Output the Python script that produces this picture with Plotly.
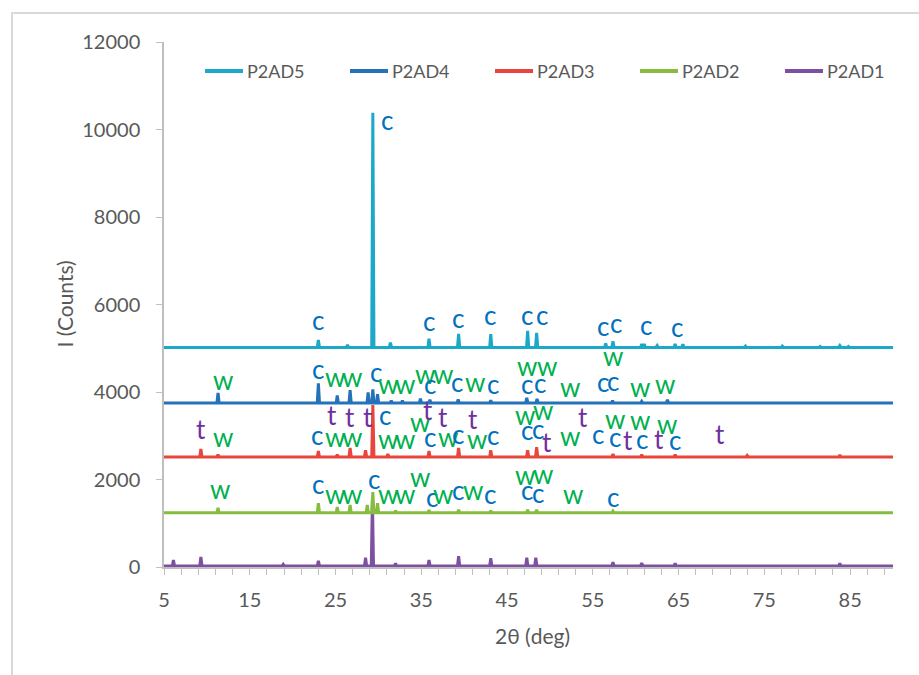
import plotly.graph_objects as go

# ---------------- data ----------------
x_start, x_end = 5, 90

series_names = ["P2AD5", "P2AD4", "P2AD3", "P2AD2", "P2AD1"]

p2ad5_base = 5020
p2ad5_pos = [23.0, 26.4, 29.35, 31.4, 35.9, 39.35, 43.1, 47.4, 48.45, 56.5, 57.35,
             60.7, 61.0, 62.5, 64.6, 65.5, 72.8, 77.1, 81.5, 83.8, 84.8]
p2ad5_int = [5190, 5080, 10380, 5130, 5220, 5330, 5320, 5400, 5350, 5110, 5160,
             5100, 5100, 5060, 5100, 5090, 5050, 5050, 5040, 5060, 5040]

p2ad4_base = 3750
p2ad4_pos = [11.3, 23.0, 25.2, 26.7, 28.8, 29.35, 29.9, 31.5, 32.8, 34.9, 36.0,
             39.3, 43.1, 47.3, 48.5, 57.3, 60.7, 63.7]
p2ad4_int = [3980, 4200, 3920, 4040, 3990, 4060, 3950, 3800, 3800, 3850, 3820,
             3830, 3810, 3870, 3840, 3800, 3790, 3820]

p2ad3_base = 2515
p2ad3_pos = [9.3, 11.3, 23.0, 25.2, 26.7, 28.5, 29.35, 31.1, 35.9, 39.35, 43.1,
             47.4, 48.45, 57.35, 60.7, 64.6, 73.0, 83.8]
p2ad3_int = [2700, 2570, 2650, 2570, 2720, 2670, 3700, 2580, 2650, 2720, 2670,
             2670, 2740, 2580, 2570, 2570, 2550, 2560]

p2ad2_base = 1240
p2ad2_pos = [11.3, 23.0, 25.2, 26.7, 28.7, 29.35, 29.9, 32.0, 35.9, 39.35, 43.1,
             47.4, 48.45, 57.35]
p2ad2_int = [1350, 1460, 1370, 1420, 1420, 1710, 1460, 1290, 1300, 1310, 1290,
             1310, 1310, 1280]

p2ad1_base = 25
p2ad1_pos = [6.1, 9.3, 18.9, 23.0, 28.5, 29.3, 32.0, 35.9, 39.35, 43.1, 47.3,
             48.35, 57.35, 60.7, 64.6, 83.8]
p2ad1_int = [160, 230, 60, 140, 210, 1550, 80, 160, 250, 200, 210,
             210, 110, 90, 80, 80]

# phase labels: text, 2theta, counts
label_text = (
    ["c", "c", "c", "c", "c", "c", "c", "c", "c", "c", "c", "w"]
    + ["w", "c", "w", "w", "c", "w", "w", "w", "w", "c", "c", "w", "c", "w", "w",
       "c", "c", "w", "c", "c", "w", "w"]
    + ["t", "w", "c", "w", "w", "t", "t", "t", "c", "w", "w", "w", "t", "c", "t",
       "w", "c", "t", "w", "c", "w", "w", "c", "c", "t", "w", "t", "c", "w", "c",
       "t", "w", "c", "t", "w", "c", "t"]
    + ["w", "c", "w", "w", "c", "w", "w", "w", "c", "w", "c", "w", "c", "w", "w",
       "c", "c", "w", "c"]
)
label_x = (
    [22.97, 31.0, 35.92, 39.31, 43.04, 47.36, 49.11, 56.22, 57.74, 61.24, 64.86, 57.39]
    + [11.88, 22.97, 24.95, 26.94, 29.74, 31.14, 33.12, 35.45, 37.56, 36.04, 39.19,
       41.29, 43.39, 47.36, 49.69, 47.36, 48.87, 52.37, 56.22, 57.39, 60.54, 63.46]
    + [9.32, 11.88, 22.85, 24.95, 26.94, 24.6, 26.7, 28.8, 30.79, 31.14, 33.12,
       34.87, 35.8, 36.04, 37.56, 38.14, 39.31, 41.06, 41.52, 43.39, 47.12, 49.22,
       47.36, 48.64, 49.69, 52.37, 53.89, 55.64, 57.63, 57.63, 59.14, 60.54, 60.78,
       62.76, 63.7, 64.63, 69.88]
    + [11.53, 22.97, 24.95, 26.94, 29.5, 31.14, 33.12, 34.87, 36.27, 37.56, 39.31,
       41.06, 43.04, 47.12, 49.22, 47.36, 48.64, 52.72, 57.39]
)
label_y = (
    [5578, 10150, 5555, 5624, 5692, 5692, 5692, 5441, 5509, 5464, 5418, 4755]
    + [4206, 4458, 4275, 4275, 4389, 4115, 4115, 4343, 4343, 4115, 4160,
       4160, 4115, 4526, 4526, 4115, 4138, 4046, 4160, 4183, 4046, 4115]
    + [3086, 2903, 2949, 2903, 2903, 3406, 3360, 3360, 3406, 2857, 2857,
       3246, 3520, 2903, 3360, 2903, 2972, 3315, 2857, 2949, 3406, 3520,
       3063, 3086, 2789, 2926, 3360, 2972, 3315, 2903, 2835, 3292, 2857,
       2857, 3200, 2835, 2972]
    + [1714, 1829, 1600, 1600, 1943, 1600, 1600, 1989, 1532, 1600, 1692,
       1692, 1600, 2035, 2057, 1692, 1623, 1600, 1532]
)

y_ticks = [0, 2000, 4000, 6000, 8000, 10000, 12000]
y_tick_text = ["0", "2000", "4000", "6000", "8000", "10000", "12000"]

# ---------------- styling ----------------
line_colors = {"P2AD5": "#1CA9C9", "P2AD4": "#2472B9", "P2AD3": "#E8453C",
               "P2AD2": "#86BD41", "P2AD1": "#7E50A2"}
label_colors = {"c": "#0070C0", "w": "#00B050", "t": "#7030A0"}
FONT = "Lato"
GREY_TXT = "#595959"
AX = "#BFBFBF"

series = {
    "P2AD5": (p2ad5_base, p2ad5_pos, p2ad5_int),
    "P2AD4": (p2ad4_base, p2ad4_pos, p2ad4_int),
    "P2AD3": (p2ad3_base, p2ad3_pos, p2ad3_int),
    "P2AD2": (p2ad2_base, p2ad2_pos, p2ad2_int),
    "P2AD1": (p2ad1_base, p2ad1_pos, p2ad1_int),
}


def build(base, pos, inten, hw=0.13):
    xs, ys = [x_start], [base]
    for p, v in zip(pos, inten):
        xs += [p - hw, p, p + hw]
        ys += [base, v, base]
    xs.append(x_end)
    ys.append(base)
    return xs, ys


fig = go.Figure()
for name in reversed(series_names):
    xs, ys = build(*series[name])
    fig.add_trace(go.Scatter(x=xs, y=ys, mode="lines", name=name,
                             line=dict(color=line_colors[name], width=3)))

for t, x, y in zip(label_text, label_x, label_y):
    fig.add_annotation(x=x, y=y, text=t, showarrow=False, xanchor="center",
                       yanchor="middle", yshift=3,
                       font=dict(family=FONT, size=26, color=label_colors[t]))

L, R, T, B = 164, 26, 42, 108
W, H = 919, 675
pw, ph = W - L - R, H - T - B


def px_x(px):
    return (px - L) / pw


def px_y(py):
    return (H - B - py) / ph


fig.add_shape(type="rect", xref="paper", yref="paper",
              x0=px_x(12), x1=px_x(940), y0=px_y(700), y1=px_y(13),
              line=dict(color="#D9D9D9", width=2), layer="below")

# legend drawn inside the plot, one entry per series (line sample + name)
LEG_X0, LEG_STEP, LEG_Y = 205, 145, 71
for i, name in enumerate(series_names):
    x0 = LEG_X0 + i * LEG_STEP
    fig.add_shape(type="line", xref="paper", yref="paper",
                  x0=px_x(x0), x1=px_x(x0 + 38), y0=px_y(LEG_Y), y1=px_y(LEG_Y),
                  line=dict(color=line_colors[name], width=4))
    fig.add_annotation(xref="paper", yref="paper", x=px_x(x0 + 40), y=px_y(LEG_Y),
                       xanchor="left", yanchor="middle", text=name, showarrow=False,
                       font=dict(family=FONT, size=18, color=GREY_TXT))

fig.add_annotation(xref="paper", yref="paper", x=px_x(64), y=0.5,
                   xanchor="center", yanchor="middle",
                   text="I (Counts)", textangle=-90, showarrow=False,
                   font=dict(family=FONT, size=21, color=GREY_TXT))
fig.add_annotation(xref="paper", yref="paper", x=px_x(532), y=px_y(635),
                   xanchor="center", yanchor="middle",
                   text="2θ (deg)", showarrow=False,
                   font=dict(family=FONT, size=21, color=GREY_TXT))

fig.update_layout(
    width=W, height=H,
    margin=dict(l=L, r=R, t=T, b=B, pad=0),
    paper_bgcolor="white", plot_bgcolor="white",
    font=dict(family=FONT, color=GREY_TXT),
    showlegend=False,
)
fig.update_xaxes(range=[x_start, x_end], showgrid=False, zeroline=False,
                 showline=True, linecolor=AX, linewidth=1.5,
                 tick0=5, dtick=10, ticks="outside", ticklen=6, tickcolor=AX,
                 tickfont=dict(family=FONT, size=20, color=GREY_TXT),
                 minor=dict(tick0=5, dtick=2, ticks="outside", ticklen=6, tickcolor=AX),
                 ticklabelstandoff=8)
fig.update_yaxes(range=[0, 12000], showgrid=False, zeroline=False,
                 showline=True, linecolor=AX, linewidth=1.5,
                 tickvals=y_ticks, ticktext=y_tick_text,
                 ticks="outside", ticklen=6, tickcolor=AX,
                 tickfont=dict(family=FONT, size=20, color=GREY_TXT),
                 ticklabelstandoff=12)

fig.write_html("out.html")
